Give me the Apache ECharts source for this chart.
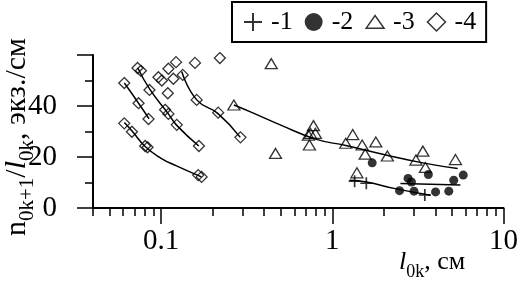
<!DOCTYPE html>
<html><head><meta charset="utf-8">
<script src="https://cdn.jsdelivr.net/npm/echarts@6/dist/echarts.min.js"></script>
<style>html,body{margin:0;padding:0;background:#fff}#c{width:521px;height:281px}</style>
</head><body><div id="c"></div>
<script>
// ---- data ----
const seriesNames = ['-1', '-2', '-3', '-4'];
const plus1 = [[1.35,10.5],[1.58,9.7],[3.47,5.1]];
const dots2 = [[1.71,17.7],[2.77,11.6],[2.90,10.2],[3.64,13.1],[2.47,6.8],[3.00,6.6],[4.01,6.3],[4.79,6.6],[5.12,10.9],[5.82,12.9]];
const tri3 = [[0.266,40.4],[0.44,56.6],[0.466,21.4],[0.725,28.6],[0.735,24.7],[0.776,32.3],[0.745,29.3],[0.796,29.3],[1.198,25.4],[1.316,28.8],[1.494,24.7],[1.556,21.1],[1.795,25.9],[2.097,20.4],[1.392,13.8],[3.079,18.8],[3.381,22.3],[3.497,15.9],[5.24,19.0]];
const dia4 = [[0.0609,49.0],[0.0738,41.1],[0.0844,34.9],
  [0.0609,33.2],[0.0675,29.9],[0.0807,24.3],[0.0833,23.8],[0.1647,12.9],[0.1724,12.2],
  [0.0728,54.9],[0.0762,53.8],[0.0855,46.3],[0.1055,38.5],[0.1103,36.9],[0.1234,32.6],[0.1663,24.3],
  [0.0964,51.3],[0.101,50.0],[0.1094,45.0],[0.1103,54.6],[0.1222,57.2],[0.1179,50.7],[0.1337,52.2],[0.1613,42.4],[0.2154,37.4],[0.2906,27.7],[0.1577,56.9],[0.2203,58.8]];
const fitA = [[0.061,49],[0.074,41],[0.085,35]];
const fitB = [[0.061,33.5],[0.068,30],[0.081,24],[0.1,19.5],[0.123,16.5],[0.172,12.2]];
const fitC = [[0.073,55],[0.086,46.5],[0.11,37],[0.123,32.5],[0.166,24.3]];
const fitD = [[0.132,53.5],[0.161,42.5],[0.215,37],[0.29,27.7]];
const fit3 = [[0.266,40.4],[0.33,37.8],[0.5,32.5],[0.8,27],[1.2,24.5],[2,21],[3.5,17.5],[5.4,15.5]];
const fit2 = [[2.5,9.6],[5.6,9.0]];
const fit1 = [[1.26,10.9],[1.58,10.2],[2.33,7.6],[3.75,5.0]];
const xMajorTicks = [0.1, 1, 10];
const xMinorTicks = [0.04,0.05,0.06,0.07,0.08,0.09,0.2,0.3,0.4,0.5,0.6,0.7,0.8,0.9,2,3,4,5,6,7,8,9];
const yLabels = [0, 20, 40];

const SERIF = '"Liberation Serif", "Times New Roman", Times, serif';
const plusPath = 'path://M4.3,0H5.7V4.3H10V5.7H5.7V10H4.3V5.7H0V4.3H4.3Z';
const plusLegend = 'path://M4.45,0H5.55V4.45H10V5.55H5.55V10H4.45V5.55H0V4.45H4.45Z';
const hollow = {color: 'rgba(0,0,0,0)', borderColor: '#000', borderWidth: 1.3};

function fitLine(name, data) {
  return {name, type: 'line', data, smooth: true, symbol: 'none', silent: true,
    lineStyle: {color: '#000', width: 1.5}, z: 1};
}

const chart = echarts.init(document.getElementById('c'), null, {renderer: 'canvas'});
chart.setOption({
  animation: false,
  backgroundColor: '#fff',
  grid: {left: 93, right: 16, top: 55, bottom: 73},
  legend: {
    left: 232, top: 2, orient: 'horizontal', selectedMode: false,
    padding: [7, 10, 7, 12], borderColor: '#000', borderWidth: 2,
    itemWidth: 18, itemHeight: 18, itemGap: 12,
    textStyle: {fontFamily: SERIF, fontSize: 26, color: '#000', padding: [0, 0, 0, 4]},
    data: [
      {name: seriesNames[0], icon: plusLegend, itemStyle: {color: '#000', borderWidth: 0}},
      {name: seriesNames[1], icon: 'circle', itemStyle: {color: '#000', borderWidth: 0}},
      {name: seriesNames[2], icon: 'path://M0,12L8.5,0L17,12Z', itemStyle: {color: '#fff', borderColor: '#000', borderWidth: 1.5}},
      {name: seriesNames[3], icon: 'path://M0,9L9,0L18,9L9,18Z', itemStyle: {color: '#fff', borderColor: '#000', borderWidth: 1.5}}
    ]
  },
  xAxis: [{
    type: 'log', logBase: 10, min: 0.04, max: 10, position: 'bottom',
    axisLine: {lineStyle: {color: '#000', width: 2}},
    axisTick: {show: true, length: 16, customValues: xMajorTicks, lineStyle: {color: '#000', width: 1.5}},
    axisLabel: {customValues: xMajorTicks, margin: 19, color: '#000', fontFamily: SERIF, fontSize: 29,
      formatter: v => String(v)},
    splitLine: {show: false}
  }, {
    type: 'log', logBase: 10, min: 0.04, max: 10, position: 'bottom',
    axisLine: {show: false},
    axisTick: {show: true, length: 8, customValues: xMinorTicks, lineStyle: {color: '#000', width: 1.5}},
    axisLabel: {show: false},
    splitLine: {show: false}
  }],
  yAxis: {
    type: 'value', min: 0, max: 60, interval: 20,
    axisLine: {show: true, lineStyle: {color: '#000', width: 2}},
    axisTick: {show: true, length: 16, lineStyle: {color: '#000', width: 1.5}},
    minorTick: {show: true, splitNumber: 2, length: 8, lineStyle: {color: '#000', width: 1.5}},
    axisLabel: {customValues: yLabels, margin: 36, color: '#000', fontFamily: SERIF, fontSize: 29},
    splitLine: {show: false}
  },
  graphic: [
    {type: 'text', x: 20, y: 137, rotation: Math.PI / 2, silent: true,
      style: {text: '{n|n}{s|0k+1}{n|/}{i|l}{s|0k}{n|, экз./см}', align: 'center', verticalAlign: 'middle', fill: '#000',
        rich: {
          n: {fontFamily: SERIF, fontSize: 30, lineHeight: 35, verticalAlign: 'top', fill: '#000'},
          i: {fontFamily: SERIF, fontStyle: 'italic', fontSize: 30, lineHeight: 35, verticalAlign: 'top', fill: '#000'},
          s: {fontFamily: SERIF, fontSize: 21, lineHeight: 17, verticalAlign: 'bottom', fill: '#000'}
        }}},
    {type: 'text', x: 399, y: 265, silent: true,
      style: {text: '{i|l}{s|0k}{n|, см}', align: 'left', verticalAlign: 'middle', fill: '#000',
        rich: {
          n: {fontFamily: SERIF, fontSize: 26, lineHeight: 32, verticalAlign: 'top', fill: '#000'},
          i: {fontFamily: SERIF, fontStyle: 'italic', fontSize: 26, lineHeight: 32, verticalAlign: 'top', fill: '#000'},
          s: {fontFamily: SERIF, fontSize: 18, lineHeight: 15, verticalAlign: 'bottom', fill: '#000'}
        }}}
  ],
  series: [
    fitLine('fitA', fitA), fitLine('fitB', fitB), fitLine('fitC', fitC), fitLine('fitD', fitD),
    fitLine('fit3', fit3), fitLine('fit2', fit2), fitLine('fit1', fit1),
    {name: seriesNames[0], type: 'scatter', data: plus1, symbol: plusPath, symbolSize: 12,
      itemStyle: {color: '#000'}, z: 3},
    {name: seriesNames[1], type: 'scatter', data: dots2, symbol: 'circle', symbolSize: 9,
      itemStyle: {color: '#000'}, z: 3},
    {name: seriesNames[2], type: 'scatter', data: tri3, symbol: 'triangle', symbolSize: [12, 10],
      itemStyle: hollow, z: 3},
    {name: seriesNames[3], type: 'scatter', data: dia4, symbol: 'diamond', symbolSize: 11,
      itemStyle: hollow, z: 3}
  ]
});
</script></body></html>
